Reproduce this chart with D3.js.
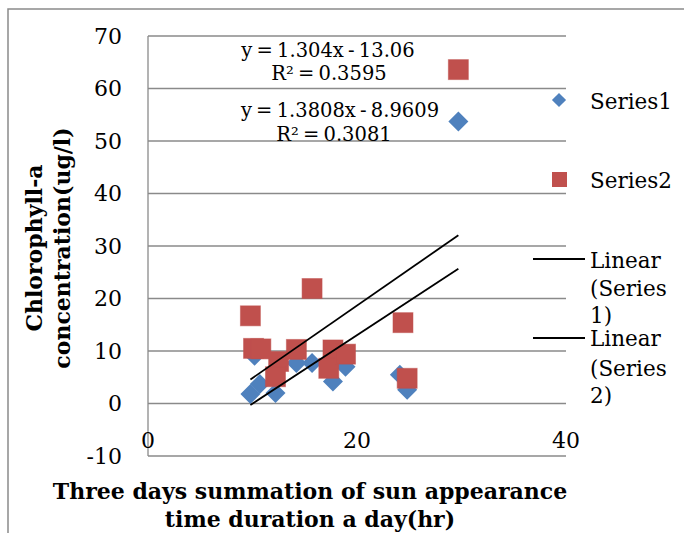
<!DOCTYPE html>
<html><head><meta charset="utf-8">
<script src="https://cdn.jsdelivr.net/npm/d3@7"></script>
<style>html,body{margin:0;padding:0;background:#fff;}svg{display:block;}</style>
</head><body>
<script>
// Data
const series1X = [9.8, 10.7, 10.2, 12.2, 14.2, 15.7, 17.7, 18.9, 24.1, 24.8, 29.7];
const series1Y = [1.8, 3.7, 9.1, 2.0, 7.7, 7.7, 4.2, 7.0, 5.5, 2.6, 53.7];
const series2X = [9.8, 10.1, 10.8, 12.5, 12.2, 14.2, 15.7, 17.7, 17.3, 18.9, 24.4, 24.8, 29.7];
const series2Y = [16.7, 10.5, 10.4, 8.0, 5.1, 10.3, 21.9, 10.2, 6.7, 9.4, 15.4, 4.8, 63.6];
const trendSlopes = [1.3808, 1.304];
const trendIntercepts = [-8.9609, -13.06];
const trendLabels = [["y = 1.3808x - 8.9609", "R² = 0.3081"], ["y = 1.304x - 13.06", "R² = 0.3595"]];
const yTicks = [-10, 0, 10, 20, 30, 40, 50, 60, 70];
const xTicks = [0, 20, 40];
const seriesNames = ["Series1", "Series2"];
const trendNames = [["Linear", "(Series", "1)"], ["Linear", "(Series", "2)"]];

const W = 684, H = 533;
const svg = d3.select("body").append("svg").attr("width", W).attr("height", H);
const FONT = "'DejaVu Serif', 'Liberation Serif', serif";
const gridColor = "#8a8a8a";
const blue = "#4F81BD", red = "#C0504D";

// outer frame
svg.append("rect").attr("x", 8).attr("y", 9).attr("width", 720).attr("height", 600)
  .attr("fill", "none").attr("stroke", gridColor).attr("stroke-width", 1.5);

const x = d3.scaleLinear().domain([0, 40]).range([148, 566]);
const y = d3.scaleLinear().domain([-10, 70]).range([456, 36]);

// gridlines
svg.append("g").selectAll("line").data(yTicks).join("line")
  .attr("x1", x(0)).attr("x2", x(40)).attr("y1", d => y(d)).attr("y2", d => y(d))
  .attr("stroke", gridColor).attr("stroke-width", 1.3);
// left axis line
svg.append("line").attr("x1", x(0)).attr("x2", x(0)).attr("y1", y(70)).attr("y2", y(-10))
  .attr("stroke", gridColor).attr("stroke-width", 1.3);

// y tick labels
svg.append("g").selectAll("text").data(yTicks).join("text")
  .attr("x", 122).attr("y", d => y(d)).attr("dy", "0.36em").attr("text-anchor", "end")
  .attr("font-family", FONT).attr("font-size", 22).text(d => d);
// x tick labels
svg.append("g").selectAll("text").data(xTicks).join("text")
  .attr("x", d => x(d)).attr("y", 440).attr("dy", "0.36em").attr("text-anchor", "middle")
  .attr("font-family", FONT).attr("font-size", 22).text(d => d);

// markers
const s1 = series1X.map((v, i) => [v, series1Y[i]]);
const s2 = series2X.map((v, i) => [v, series2Y[i]]);
svg.append("g").selectAll("path").data(s1).join("path")
  .attr("d", d3.symbol(d3.symbolSquare, 200))
  .attr("transform", d => `translate(${x(d[0])},${y(d[1])}) rotate(45)`)
  .attr("fill", blue);
svg.append("g").selectAll("rect").data(s2).join("rect")
  .attr("x", d => x(d[0]) - 10).attr("y", d => y(d[1]) - 10).attr("width", 20).attr("height", 20)
  .attr("fill", red).attr("stroke", "rgba(192,80,77,0.5)").attr("stroke-width", 1);

// trendlines
const sets = [s1, s2];
trendSlopes.forEach((m, i) => {
  const ext = d3.extent(sets[i], d => d[0]);
  svg.append("line")
    .attr("x1", x(ext[0])).attr("y1", y(m * ext[0] + trendIntercepts[i]))
    .attr("x2", x(ext[1])).attr("y2", y(m * ext[1] + trendIntercepts[i]))
    .attr("stroke", "#000").attr("stroke-width", 1.8);
});

// trend equation labels
const labelPos = [[340, 110, 334, 134], [328, 50, 329, 73]];
trendLabels.forEach((lab, i) => {
  const p = labelPos[i];
  svg.append("text").attr("x", p[0]).attr("y", p[1]).attr("dy", "0.36em").attr("text-anchor", "middle")
    .attr("font-family", FONT).attr("font-size", 19.5).attr("word-spacing", -2).text(lab[0]);
  svg.append("text").attr("x", p[2]).attr("y", p[3]).attr("dy", "0.36em").attr("text-anchor", "middle")
    .attr("font-family", FONT).attr("font-size", 19.5).attr("word-spacing", -2).text(lab[1]);
});

// axis titles
const xt = svg.append("text").attr("text-anchor", "middle").attr("font-family", FONT)
  .attr("font-size", 22).attr("font-weight", "bold");
xt.append("tspan").attr("x", 310).attr("y", 499).text("Three days summation of sun appearance");
xt.append("tspan").attr("x", 310).attr("y", 527).text("time duration a day(hr)");
const yt = svg.append("text").attr("text-anchor", "middle").attr("font-family", FONT)
  .attr("font-size", 22).attr("font-weight", "bold")
  .attr("transform", "translate(0,248) rotate(-90)");
yt.append("tspan").attr("x", 0).attr("y", 42).text("Chlorophyll-a");
yt.append("tspan").attr("x", 0).attr("y", 70).text("concentration(ug/l)");

// legend
const lg = svg.append("g");
lg.append("path").attr("d", d3.symbol(d3.symbolSquare, 100))
  .attr("transform", "translate(559,100) rotate(45)").attr("fill", blue);
lg.append("rect").attr("x", 552).attr("y", 172).attr("width", 15).attr("height", 15).attr("fill", red);
const legText = [[seriesNames[0], 101], [seriesNames[1], 180]];
legText.forEach(t => lg.append("text").attr("x", 590).attr("y", t[1]).attr("dy", "0.36em")
  .attr("font-family", FONT).attr("font-size", 21.5).text(t[0]));
const trendLegY = [[259, [260, 288, 315]], [338, [338, 368, 395]]];
trendLegY.forEach((t, i) => {
  lg.append("line").attr("x1", 533).attr("x2", 585).attr("y1", t[0]).attr("y2", t[0])
    .attr("stroke", "#000").attr("stroke-width", 1.8);
  trendNames[i].forEach((s, j) => lg.append("text").attr("x", 590).attr("y", t[1][j]).attr("dy", "0.36em")
    .attr("font-family", FONT).attr("font-size", 21.5).text(s));
});
</script>
</body></html>
